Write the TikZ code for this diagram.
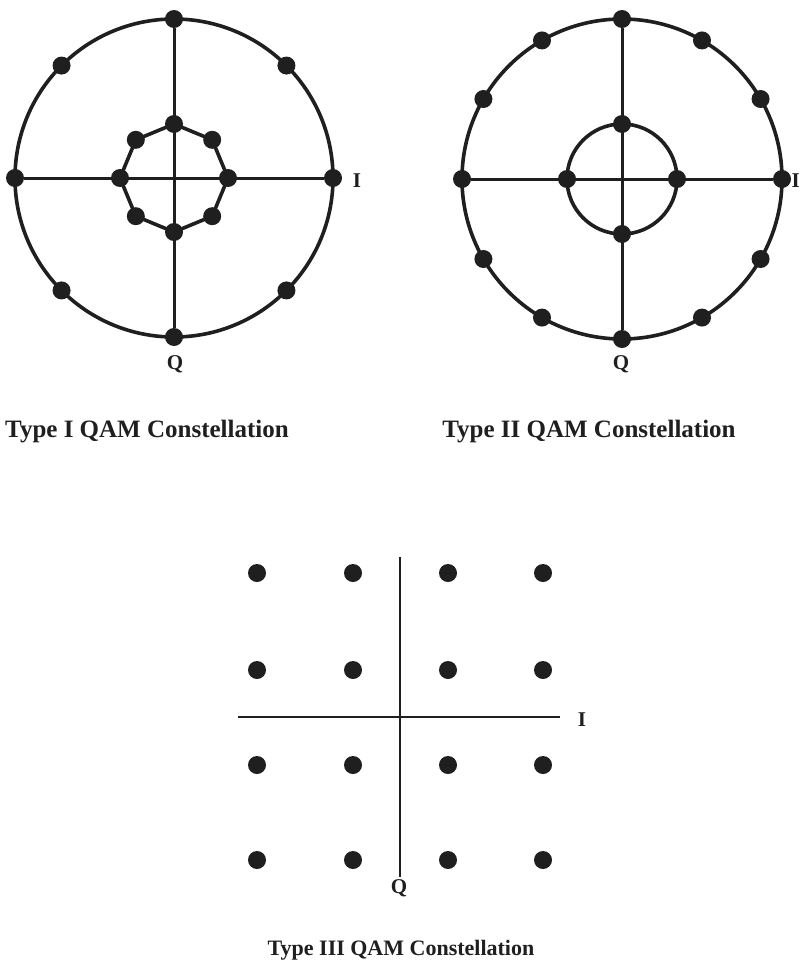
\documentclass[tikz,border=0pt]{standalone}
\usepackage{fontspec}
\setmainfont{Liberation Serif}
\usetikzlibrary{calc}
\begin{document}
\begin{tikzpicture}[x=1pt,y=-1pt,
  dot/.style={circle,fill=black!88,inner sep=0pt,minimum size=18pt},
  ring/.style={line width=3.6pt,draw=black!88},
  axis/.style={line width=3pt,draw=black!88},
  gaxis/.style={line width=2.6pt,draw=black!88},
  lab/.style={font=\bfseries\fontsize{21}{21}\selectfont,text=black!88,inner sep=0pt},
  captxt/.style={font=\bfseries\fontsize{25}{25}\selectfont,text=black!88,inner sep=0pt}]
\useasboundingbox[fill=white] (0,0) rectangle (801,977);
% ---------- Type I ----------
\coordinate (c1) at (174,178);
\draw[ring] (c1) circle[radius=159];
\foreach \a in {0,45,...,315}{
  \node[dot] (o1-\a) at ($(c1)+(\a:159)$) {};
}
\foreach \a in {0,45,...,315}{
  \coordinate (i1c-\a) at ($(c1)+(\a:54)$);
}
\draw[ring] (i1c-0) -- (i1c-45) -- (i1c-90) -- (i1c-135) -- (i1c-180) -- (i1c-225) -- (i1c-270) -- (i1c-315) -- cycle;
\draw[axis] (o1-90) -- (o1-270);
\draw[axis] (o1-0) -- (o1-180);
\foreach \a in {0,45,...,315}{
  \node[dot] (i1-\a) at (i1c-\a) {};
}
\node[lab] (I1) at (357,181) {I};
\node[lab] (Q1) at (175,364) {Q};
\node[captxt] (T1) at (147,432) {Type I QAM Constellation};
% ---------- Type II ----------
\coordinate (c2) at (622,179);
\draw[ring] (c2) circle[radius=160];
\draw[ring] (c2) circle[radius=55];
\foreach \a in {0,30,...,330}{
  \node[dot] (o2-\a) at ($(c2)+(\a:160)$) {};
}
\draw[axis] (o2-90) -- (o2-270);
\draw[axis] (o2-0) -- (o2-180);
\foreach \a in {0,90,180,270}{
  \node[dot] (i2-\a) at ($(c2)+(\a:55)$) {};
}
\node[lab,anchor=west] (I2) at (791.5,181) {I};
\node[lab] (Q2) at (621,364) {Q};
\node[captxt] (T2) at (589,432) {Type II QAM Constellation};
% ---------- Type III ----------
\foreach \x [count=\i] in {257,353,448,543}{
  \foreach \y [count=\j] in {573,670,765,860}{
    \node[dot] (g-\i-\j) at (\x,\y) {};
  }
}
\coordinate (vt) at (400,557);
\coordinate (vb) at (400,877);
\coordinate (hl) at (238,717);
\coordinate (hr) at (560,717);
\draw[gaxis] (vt) -- (vb);
\draw[gaxis] (hl) -- (hr);
\node[lab] (I3) at (582,720) {I};
\node[lab] (Q3) at (399,888) {Q};
\node[captxt,font=\bfseries\fontsize{22}{22}\selectfont] (T3) at (401,950) {Type III QAM Constellation};
\end{tikzpicture}
\end{document}
